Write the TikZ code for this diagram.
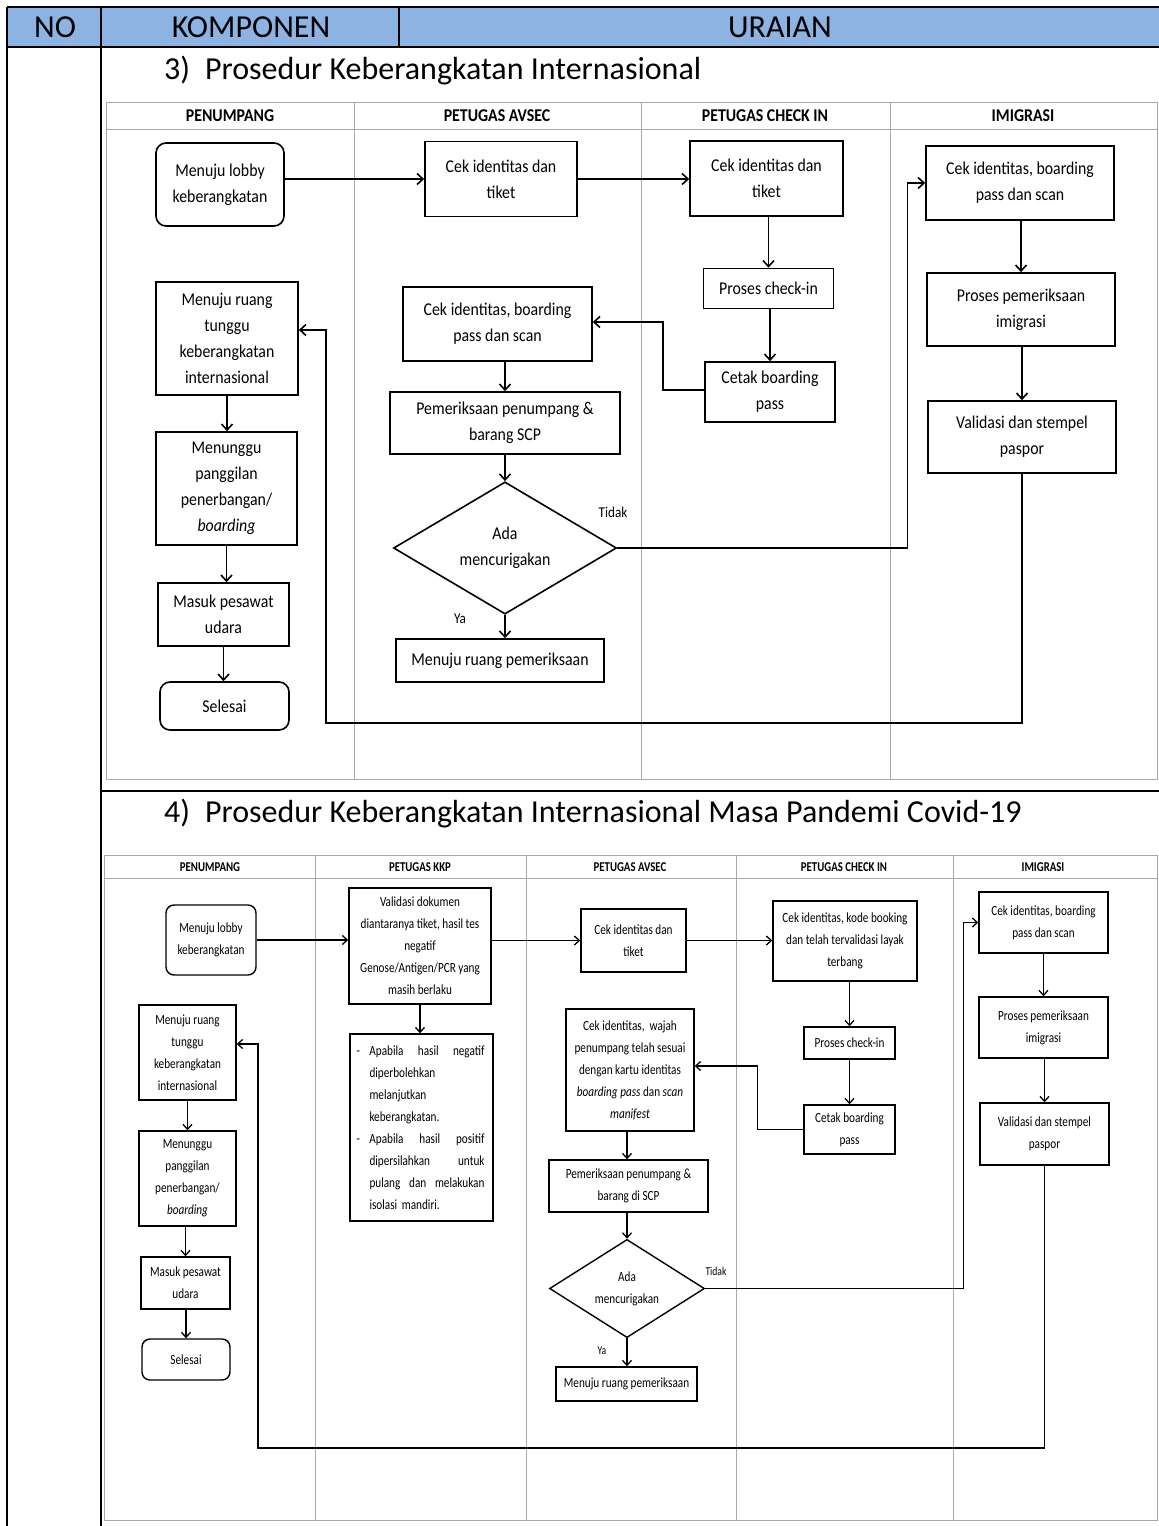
\documentclass[tikz,border=0pt]{standalone}
\usepackage{fontspec}
\setmainfont{Carlito}
\newfontfamily\dgA[FakeStretch=0.88]{Carlito}
\newfontfamily\dgB[FakeStretch=0.80]{Carlito}
\usetikzlibrary{arrows.meta,shapes.geometric,calc}

\newcommand\txtone{\dgA\fontsize{18}{26}\selectfont}
\newcommand\txttwo{\dgB\fontsize{14}{22}\selectfont}
\newcommand\hdone{\dgA\bfseries\fontsize{18}{20}\selectfont}
\newcommand\hdtwo{\dgB\bfseries\fontsize{13.5}{15}\selectfont}
\newcommand\lblone{\dgA\fontsize{15}{17}\selectfont}
\newcommand\lbltwo{\dgB\fontsize{12}{14}\selectfont}
\newcommand\bigtxt{\fontsize{32}{37}\selectfont}

\definecolor{headblue}{HTML}{8DB3E2}
\definecolor{lanegray}{HTML}{A8A8A8}

\tikzset{
  box/.style={draw=black, line width=1.6pt, inner sep=0pt, align=center, font=\txtone},
  rbox/.style={box, rounded corners=10pt},
  dbox/.style={box, shape=diamond},
  arr/.style={line width=1.6pt, -{Straight Barb[length=6pt,width=11pt]}},
  boxb/.style={draw=black, line width=1.4pt, inner sep=0pt, align=center, font=\txttwo},
  rboxb/.style={boxb, rounded corners=8pt},
  dboxb/.style={boxb, shape=diamond},
  arrb/.style={line width=1.3pt, -{Straight Barb[length=5pt,width=9pt]}},
  lane/.style={draw=lanegray, line width=1pt},
  tab/.style={draw=black, line width=1.8pt},
}

\begin{document}
\begin{tikzpicture}[x=1pt,y=-1pt]
\useasboundingbox (0,0) rectangle (1159,1526);
\fill[white] (0,0) rectangle (1159,1526);

% ---------- table frame ----------
\fill[headblue] (7,7) rectangle (1159,47);
\draw[tab] (7,7) -- (1159,7);
\draw[tab] (7,47) -- (1159,47);
\draw[tab] (7,7) -- (7,1526);
\draw[tab] (101,7) -- (101,1526);
\draw[tab] (399,7) -- (399,47);
\draw[tab] (101,791) -- (1159,791);

\node[anchor=base, font=\bigtxt] (hno) at (55,37) {NO};
\node[anchor=base, font=\bigtxt] (hkomp) at (251,37) {KOMPONEN};
\node[anchor=base, font=\bigtxt] (hurai) at (780,37) {URAIAN};

\node[anchor=base west, font=\bigtxt, inner sep=0pt] (title1) at (164,79)
  {3)\hspace{15pt}Prosedur Keberangkatan Internasional};
\node[anchor=base west, font=\bigtxt, inner sep=0pt] (title2) at (164,822)
  {4)\hspace{15pt}Prosedur Keberangkatan Internasional Masa Pandemi Covid-19};

% ================= procedure 3 =================
\draw[lane] (106,102) rectangle (1157,779);
\draw[lane] (106,129) -- (1157,129);
\foreach \lx in {354,641,890} \draw[lane] (\lx,102) -- (\lx,779);
\node[font=\hdone] (l1a) at (230,116) {PENUMPANG};
\node[font=\hdone] (l1b) at (497,116) {PETUGAS AVSEC};
\node[font=\hdone] (l1c) at (765,116) {PETUGAS CHECK IN};
\node[font=\hdone] (l1d) at (1023,116) {IMIGRASI};

\node[rbox, minimum width=128pt, minimum height=83pt] (a1) at (220,184.5) {Menuju lobby\\keberangkatan};
\node[box, minimum width=152pt, minimum height=75pt] (a2) at (501,179) {Cek identitas dan\\tiket};
\node[box, minimum width=153pt, minimum height=75pt] (a3) at (766.5,178.5) {Cek identitas dan\\tiket};
\node[box, minimum width=130pt, minimum height=40pt] (a4) at (768.5,288.5) {Proses check-in};
\node[box, minimum width=130pt, minimum height=60pt] (a5) at (770,392) {Cetak boarding\\pass};
\node[box, minimum width=189pt, minimum height=74pt] (a6) at (497.5,324) {Cek identitas, boarding\\pass dan scan};
\node[box, minimum width=230pt, minimum height=62pt] (a7) at (505,423) {Pemeriksaan penumpang \&\\barang SCP};
\node[dbox, minimum width=223pt, minimum height=120pt] (q1) at (505,548) {Ada\\mencurigakan};
\node[box, minimum width=208pt, minimum height=43pt] (a8) at (500,660.5) {Menuju ruang pemeriksaan};
\node[box, minimum width=188pt, minimum height=74pt] (b1) at (1020,183) {Cek identitas, boarding\\pass dan scan};
\node[box, minimum width=188pt, minimum height=73pt] (b2) at (1021,309.5) {Proses pemeriksaan\\imigrasi};
\node[box, minimum width=188pt, minimum height=72pt] (b3) at (1022,437) {Validasi dan stempel\\paspor};
\node[box, minimum width=142pt, minimum height=113pt] (c1) at (227,338.5) {Menuju ruang\\tunggu\\keberangkatan\\internasional};
\node[box, minimum width=141pt, minimum height=113pt] (c2) at (226.5,488.5) {Menunggu\\panggilan\\penerbangan/\\\textit{boarding}};
\node[box, minimum width=131pt, minimum height=63pt] (c3) at (223.5,614.5) {Masuk pesawat\\udara};
\node[rbox, minimum width=129pt, minimum height=48pt] (c4) at (224.5,706) {Selesai};

\coordinate (r1) at (326,723);

\draw[arr] (a1.east |- a2.west) -- (a2.west);
\draw[arr] (a2.east) -- (a3.west |- a2.east);
\draw[arr] (a3.south -| a4.north) -- (a4.north);
\draw[arr] (a4.south -| a5.north) -- (a5.north);
\draw[arr] ([yshift=2pt]a5.west) -- ++(-41,0) |- ([yshift=2pt]a6.east);
\draw[arr] (a6.south -| a7.north) -- (a7.north);
\draw[arr] (a7.south) -- (q1.north);
\draw[arr] (q1.south) -- (q1.south |- a8.north);
\draw[arr] (q1.east) -- ++(290,0) |- (b1.west);
\draw[arr] (b1.south -| b2.north) -- (b2.north);
\draw[arr] (b2.south -| b3.north) -- (b3.north);
\draw[arr] (b3.south) |- (r1) |- ([yshift=8.5pt]c1.east);
\draw[arr] (c1.south) -- (c1.south |- c2.north);
\draw[arr] (c2.south) -- (c2.south |- c3.north);
\draw[arr] (c3.south) -- (c3.south |- c4.north);

\node[font=\lblone] (t1) at (613,512) {Tidak};
\node[font=\lblone] (y1) at (460,619) {Ya};

% ================= procedure 4 =================
\draw[lane] (104,855) rectangle (1157,1520);
\draw[lane] (104,878) -- (1157,878);
\foreach \lx in {315,526,736,953} \draw[lane] (\lx,855) -- (\lx,1520);
\node[font=\hdtwo] (l2a) at (210,867) {PENUMPANG};
\node[font=\hdtwo] (l2b) at (420,867) {PETUGAS KKP};
\node[font=\hdtwo] (l2c) at (630,867) {PETUGAS AVSEC};
\node[font=\hdtwo] (l2d) at (844,867) {PETUGAS CHECK IN};
\node[font=\hdtwo] (l2e) at (1043,867) {IMIGRASI};

\node[rboxb, minimum width=90pt, minimum height=70pt] (d1) at (211,940) {Menuju lobby\\keberangkatan};
\node[boxb, minimum width=142pt, minimum height=116pt] (k1) at (420,946)
  {Validasi dokumen\\diantaranya tiket, hasil tes\\negatif\\Genose/Antigen/PCR yang\\masih berlaku};
\node[boxb, minimum width=143pt, minimum height=187pt, text width=130pt, align=left] (k2) at (421.5,1127.5)
  {\makebox[13pt][l]{-}\makebox[115pt][l]{Apabila\hfill hasil\hfill negatif}\\
   \hspace*{13pt}diperbolehkan\\
   \hspace*{13pt}melanjutkan\\
   \hspace*{13pt}keberangkatan.\\
   \makebox[13pt][l]{-}\makebox[115pt][l]{Apabila\hfill hasil\hfill positif}\\
   \hspace*{13pt}\makebox[115pt][l]{dipersilahkan\hfill untuk}\\
   \hspace*{13pt}\makebox[115pt][l]{pulang\hfill dan\hfill melakukan}\\
   \hspace*{13pt}isolasi mandiri.};
\node[boxb, minimum width=105pt, minimum height=63pt] (v1) at (633.5,940.5) {Cek identitas dan\\tiket};
\node[boxb, minimum width=144pt, minimum height=80pt] (e1) at (845,941) {Cek identitas, kode booking\\dan telah tervalidasi layak\\terbang};
\node[boxb, minimum width=91pt, minimum height=32pt] (e2) at (849.5,1043) {Proses check-in};
\node[boxb, minimum width=91pt, minimum height=49pt] (e3) at (849.5,1129.5) {Cetak boarding\\pass};
\node[boxb, minimum width=128pt, minimum height=122pt] (v2) at (630,1070)
  {Cek identitas, \ wajah\\penumpang telah sesuai\\dengan kartu identitas\\\textit{boarding pass} dan \textit{scan}\\\textit{manifest}};
\node[boxb, minimum width=159pt, minimum height=52pt] (v3) at (628.5,1186) {Pemeriksaan penumpang \&\\barang di SCP};
\node[dboxb, minimum width=155pt, minimum height=97pt] (q2) at (627,1288.5) {Ada\\mencurigakan};
\node[boxb, minimum width=141pt, minimum height=34pt] (v4) at (626.5,1384) {Menuju ruang pemeriksaan};
\node[boxb, minimum width=129pt, minimum height=61pt] (i1) at (1043.5,922.5) {Cek identitas, boarding\\pass dan scan};
\node[boxb, minimum width=129pt, minimum height=61pt] (i2) at (1043.5,1027.5) {Proses pemeriksaan\\imigrasi};
\node[boxb, minimum width=129pt, minimum height=62pt] (i3) at (1044.5,1134) {Validasi dan stempel\\paspor};
\node[boxb, minimum width=97pt, minimum height=95pt] (d2) at (187.5,1052.5) {Menuju ruang\\tunggu\\keberangkatan\\internasional};
\node[boxb, minimum width=97pt, minimum height=95pt] (d3) at (187.5,1178.5) {Menunggu\\panggilan\\penerbangan/\\\textit{boarding}};
\node[boxb, minimum width=89pt, minimum height=52pt] (d4) at (185.5,1283) {Masuk pesawat\\udara};
\node[rboxb, minimum width=88pt, minimum height=41pt] (d5) at (186,1359.5) {Selesai};

\coordinate (r2) at (258,1448);

\draw[arrb] (d1.east) -- (d1.east -| k1.west);
\draw[arrb] (k1.east |- v1.west) -- (v1.west);
\draw[arrb] (v1.east) -- (e1.west |- v1.east);
\draw[arrb] (k1.south) -- (k1.south |- k2.north);
\draw[arrb] (e1.south -| e2.north) -- (e2.north);
\draw[arrb] (e2.south) -- (e3.north);
\draw[arrb] (e3.west) -- ++(-46,0) |- ([yshift=4pt]v2.east);
\draw[arrb] (v2.south -| q2.north) -- (q2.north |- v3.north);
\draw[arrb] (v3.south -| q2.north) -- (q2.north);
\draw[arrb] (q2.south) -- (q2.south |- v4.north);
\draw[arrb] (q2.east) -- ++(258,0) |- (i1.west);
\draw[arrb] (i1.south) -- (i2.north);
\draw[arrb] (i2.south -| i3.north) -- (i3.north);
\draw[arrb] (i3.south) |- (r2) |- ([yshift=8.5pt]d2.east);
\draw[arrb] (d2.south) -- (d3.north);
\draw[arrb] (d3.south -| d4.north) -- (d4.north);
\draw[arrb] (d4.south -| d5.north) -- (d5.north);

\node[font=\lbltwo] (t2) at (716,1271) {Tidak};
\node[font=\lbltwo] (y2) at (602,1351) {Ya};
\end{tikzpicture}
\end{document}
